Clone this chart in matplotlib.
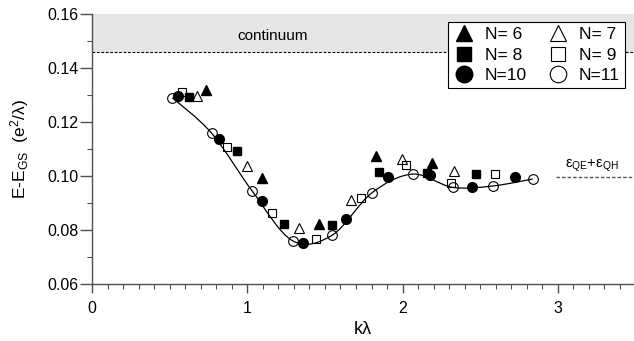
import matplotlib
matplotlib.use("Agg")
import matplotlib.pyplot as plt
from matplotlib.path import Path
from matplotlib.patches import PathPatch
import numpy as np

plt.rcParams['font.family'] = ['Liberation Sans', 'DejaVu Sans']
plt.rcParams['mathtext.fontset'] = 'custom'
plt.rcParams['mathtext.rm'] = 'Liberation Sans'
plt.rcParams['mathtext.it'] = 'Liberation Sans:italic'

# excitation energies vs k*lambda for each electron number N
k6 = [0.734, 1.097, 1.462, 1.827, 2.191]
e6 = [0.1319, 0.0991, 0.0821, 0.1075, 0.1047]
k7 = [0.674, 1.000, 1.335, 1.666, 1.998, 2.331]
e7 = [0.1296, 0.1036, 0.0806, 0.0911, 0.1062, 0.1019]
k8 = [0.625, 0.932, 1.238, 1.545, 1.848, 2.155, 2.470]
e8 = [0.1291, 0.1091, 0.0822, 0.0817, 0.1015, 0.1012, 0.1007]
k9 = [0.581, 0.871, 1.157, 1.442, 1.732, 2.022, 2.310, 2.597]
e9 = [0.1311, 0.1109, 0.0864, 0.0766, 0.0917, 0.1041, 0.0973, 0.1006]
k10 = [0.552, 0.820, 1.095, 1.361, 1.636, 1.904, 2.176, 2.449, 2.724]
e10 = [0.1296, 0.1137, 0.0909, 0.0751, 0.0840, 0.0995, 0.1004, 0.0958, 0.0996]
k11 = [0.517, 0.771, 1.032, 1.292, 1.547, 1.803, 2.065, 2.322, 2.580, 2.838]
e11 = [0.1290, 0.1158, 0.0944, 0.0760, 0.0781, 0.0938, 0.1007, 0.0958, 0.0963, 0.0989]

e_continuum = 0.146
e_qe_qh = 0.0995

fig = plt.figure(figsize=(6.34, 3.41), dpi=100)
ax = fig.add_axes([92/634, 1-284/341, 542/634, 270/341])
ax.set_xlim(0, 3.49)
ax.set_ylim(0.06, 0.16)

# continuum band
ax.axhspan(e_continuum, 0.16, color='#e6e6e6', lw=0, zorder=0)
ax.axhline(e_continuum, color='black', lw=0.8, ls=(0, (2.5, 1.5)), zorder=1)
ax.text(1.16, 0.1518, 'continuum', ha='center', va='center', fontsize=11)

# quasiparticle gap level
ax.plot([2.99, 3.49], [e_qe_qh, e_qe_qh], color='#555555', lw=1.0,
        ls=(0, (2.5, 1.5)), clip_on=False)
ax.text(3.22, 0.1037, 'ε$_{\\mathrm{QE}}$+ε$_{\\mathrm{QH}}$', ha='center',
        va='center', fontsize=10.5)

# smooth guide line through the N=11 points (Catmull-Rom as cubic Bezier)
P = np.column_stack([k11, e11])
verts = [P[0]]
codes = [Path.MOVETO]
for i in range(len(P) - 1):
    p0 = P[i - 1] if i > 0 else P[i]
    p1 = P[i]
    p2 = P[i + 1]
    p3 = P[i + 2] if i + 2 < len(P) else P[i + 1]
    verts += [p1 + (p2 - p0) / 6, p2 - (p3 - p1) / 6, p2]
    codes += [Path.CURVE4] * 3
ax.add_patch(PathPatch(Path(verts, codes), fc='none', ec='black', lw=0.9, zorder=2))

ms = 7
h6, = ax.plot(k6, e6, '^', color='black', ms=ms, ls='none', label='N= 6')
h7, = ax.plot(k7, e7, '^', mfc='none', mec='black', mew=0.8, ms=ms, ls='none', label='N= 7')
h8, = ax.plot(k8, e8, 's', color='black', ms=ms-1, ls='none', label='N= 8')
h9, = ax.plot(k9, e9, 's', mfc='none', mec='black', mew=0.8, ms=ms-1, ls='none', label='N= 9')
h10, = ax.plot(k10, e10, 'o', color='black', ms=ms, ls='none', label='N=10')
h11, = ax.plot(k11, e11, 'o', mfc='none', mec='black', mew=0.8, ms=ms, ls='none', label='N=11')

leg = ax.legend([h6, h8, h10, h7, h9, h11],
                [h.get_label() for h in [h6, h8, h10, h7, h9, h11]],
                ncol=2, loc='upper right', bbox_to_anchor=(625/634, 1-22/341),
                bbox_transform=fig.transFigure, borderaxespad=0, fancybox=False,
                edgecolor='black', framealpha=1, fontsize=12.5, markerscale=1.7,
                handlelength=1.2, handletextpad=0.6, columnspacing=1.2,
                labelspacing=0.3, borderpad=0.3)
leg.get_frame().set_linewidth(0.8)
leg.set_zorder(5)

# axes styling
for s in ['top', 'right']:
    ax.spines[s].set_visible(False)
for s in ['left', 'bottom']:
    ax.spines[s].set_color('#505050')
    ax.spines[s].set_linewidth(1.0)

ax.set_xticks([0, 1, 2, 3])
ax.set_xticks(np.arange(0, 3.5, 0.1), minor=True)
ax.set_yticks([0.06, 0.08, 0.10, 0.12, 0.14, 0.16])
ax.set_yticks(np.arange(0.06, 0.161, 0.01), minor=True)
ax.set_yticklabels(['0.06', '0.08', '0.10', '0.12', '0.14', '0.16'])
ax.tick_params(axis='x', which='major', direction='out', length=6.5, width=1,
               color='#505050', pad=6, labelsize=11.5)
ax.tick_params(axis='y', which='major', direction='out', length=8.5, width=1,
               color='#505050', pad=1, labelsize=11.5)
ax.tick_params(which='minor', direction='out', length=3.3, width=0.8, color='#505050')

ax.set_xlabel('kλ', fontsize=13, labelpad=3)
ax.set_ylabel('E-E$_{\\mathrm{GS}}$  (e$^{\\mathrm{2}}$/λ)', fontsize=12.5, labelpad=12)

fig.savefig('out.png', dpi=100)
